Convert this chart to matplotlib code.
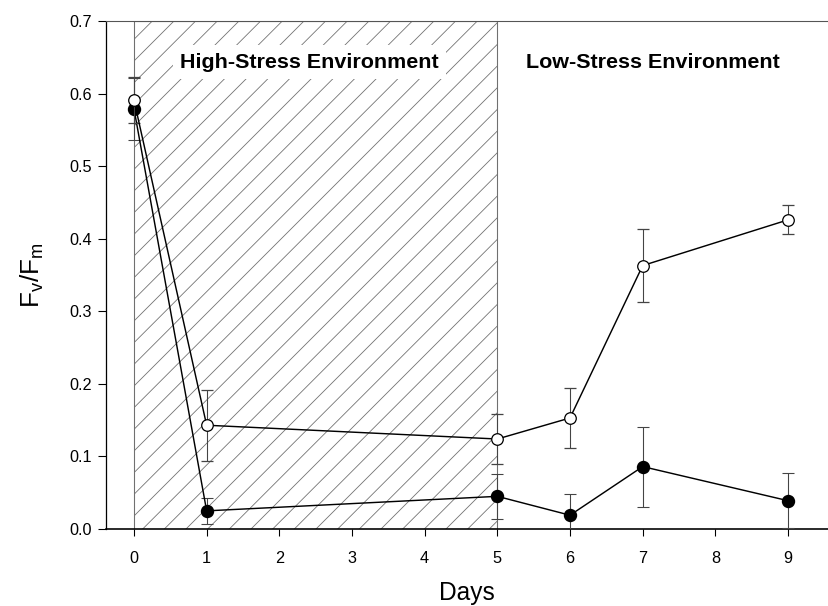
import numpy as np
import matplotlib.pyplot as plt

# data
days = [0, 1, 5, 6, 7, 9]
fvfm_open = [0.591, 0.143, 0.124, 0.153, 0.363, 0.426]
err_open = [0.032, 0.049, 0.034, 0.041, 0.050, 0.020]
fvfm_filled = [0.579, 0.025, 0.045, 0.019, 0.086, 0.039]
err_filled = [0.043, 0.018, 0.031, 0.029, 0.055, 0.038]
stress_days = (0, 5)

plt.rcParams['font.family'] = ['Liberation Sans', 'DejaVu Sans']
plt.rcParams['hatch.color'] = '#808080'
plt.rcParams['hatch.linewidth'] = 0.45

fig = plt.figure(figsize=(828 / 130, 606 / 130), dpi=130)
ax = fig.add_axes([106 / 828, 1 - 529 / 606, 1 - 106 / 828, (529 - 21) / 606])

# high-stress period: hatched band
ax.axvspan(stress_days[0], stress_days[1], facecolor='white', edgecolor='#707070',
           hatch='//', linewidth=0.6, zorder=0)

ax.errorbar(days, fvfm_filled, yerr=err_filled, fmt='o-', color='black',
            mfc='black', mec='black', ms=6.4, lw=0.8, ecolor='#444444',
            elinewidth=0.6, capsize=3.3, capthick=0.6, zorder=3)
ax.errorbar(days, fvfm_open, yerr=err_open, fmt='o-', color='black',
            mfc='white', mec='black', ms=6.4, mew=0.7, lw=0.8, ecolor='#444444',
            elinewidth=0.6, capsize=3.3, capthick=0.6, zorder=4)

ax.text(2.41, 0.6435, 'High-Stress Environment', fontsize=11.9, fontweight='bold',
        ha='center', va='center', zorder=2,
        bbox=dict(facecolor='white', edgecolor='none', pad=4))
ax.text(7.14, 0.6435, 'Low-Stress Environment', fontsize=11.9, fontweight='bold',
        ha='center', va='center', zorder=2)

ax.set_xlim(-0.385, 9.55)
ax.set_ylim(0, 0.7)
ax.set_xticks(range(10))
ax.set_yticks(np.arange(0, 0.71, 0.1))
ax.set_yticklabels([f'{v:.1f}' for v in np.arange(0, 0.71, 0.1)])
ax.tick_params(axis='x', direction='out', length=3.8, width=0.6, labelsize=9, pad=8.5)
ax.tick_params(axis='y', direction='out', length=4.4, width=0.6, labelsize=9, pad=3.5)

ax.spines['right'].set_visible(False)
ax.spines['top'].set_color('#555555')
ax.spines['top'].set_linewidth(0.6)
ax.spines['left'].set_linestyle((0, (1, 1)))
ax.spines['left'].set_linewidth(0.7)
ax.spines['bottom'].set_linewidth(0.9)

ax.set_xlabel('Days', fontsize=13.6, labelpad=8)
ax.set_ylabel('$\\mathregular{F_v/F_m}$', fontsize=14.5, labelpad=13)

fig.savefig('out.png', dpi=130)
